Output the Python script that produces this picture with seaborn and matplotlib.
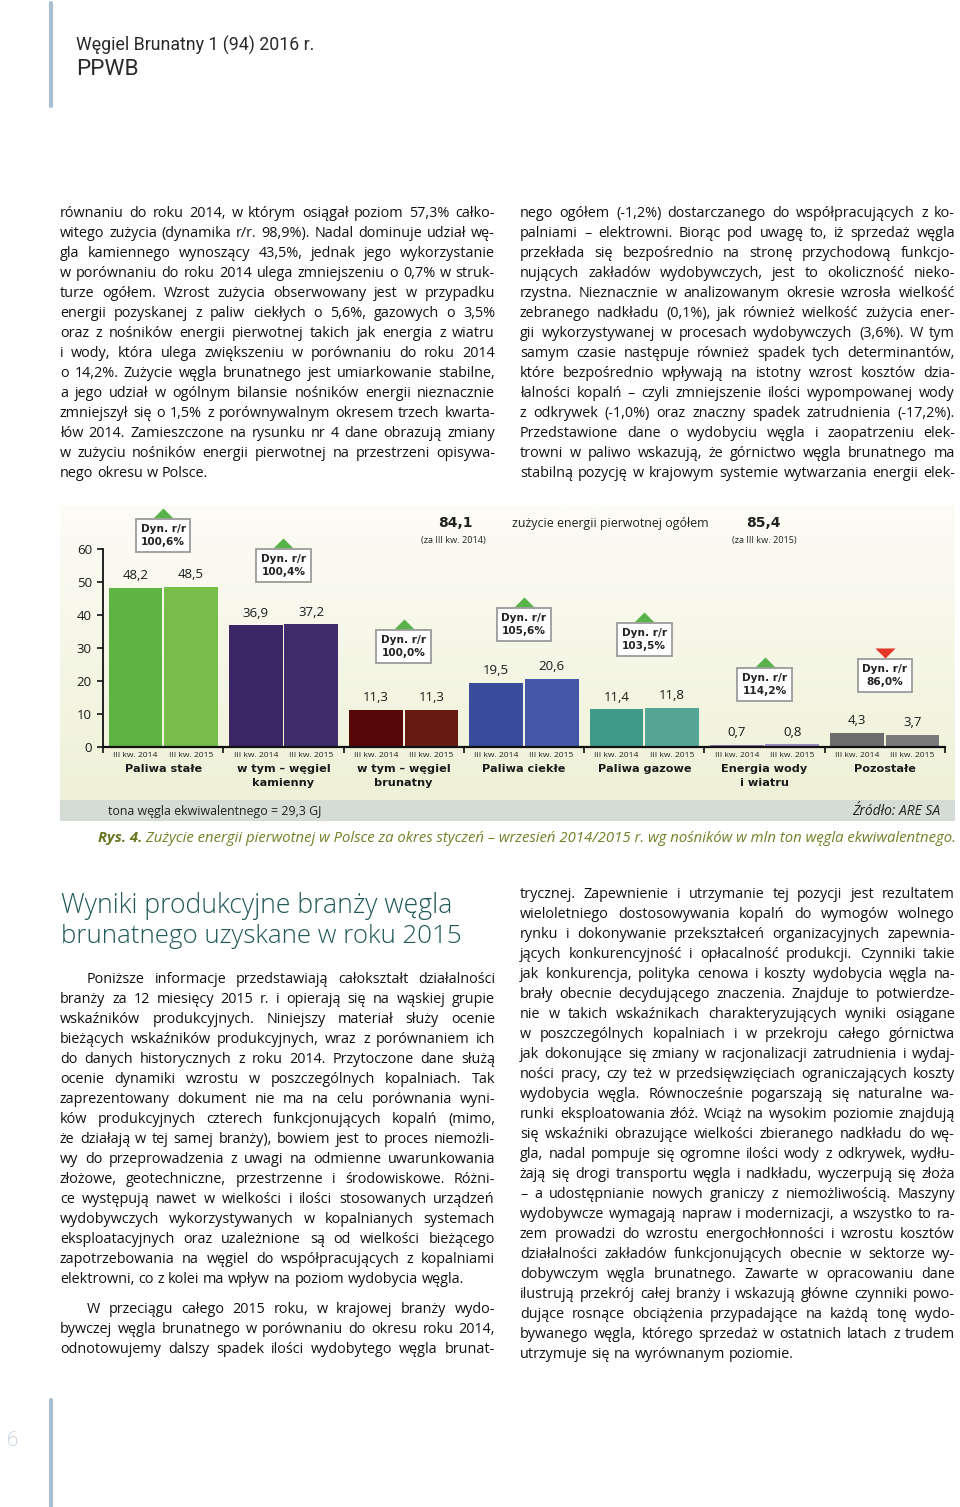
import numpy as np
import pandas as pd
import matplotlib
matplotlib.use("Agg")
import matplotlib.pyplot as plt
from matplotlib.font_manager import FontProperties
from matplotlib.patches import Rectangle
from matplotlib.lines import Line2D
import seaborn as sns

W, H = 960, 1507

# chart data (mln ton węgla ekwiwalentnego)
groups = ["Paliwa stałe", "w tym – węgiel\nkamienny", "w tym – węgiel\nbrunatny",
          "Paliwa ciekłe", "Paliwa gazowe", "Energia wody\ni wiatru", "Pozostałe"]
periods = ["III kw. 2014", "III kw. 2015"]
val_2014 = [48.2, 36.9, 11.3, 19.5, 11.4, 0.7, 4.3]
val_2015 = [48.5, 37.2, 11.3, 20.6, 11.8, 0.8, 3.7]
dyn_labels = ["100,6%", "100,4%", "100,0%", "105,6%", "103,5%", "114,2%", "86,0%"]
dyn_up = [True, True, True, True, True, True, False]
total_2014 = "84,1"
total_2015 = "85,4"
yticks = [0, 10, 20, 30, 40, 50, 60]

colors_2014 = ["#5db443", "#3b2565", "#560808", "#3a4c9c", "#3f9a8a", "#8e7bb8", "#6d6d6d"]
colors_2015 = ["#78bc4a", "#3f2c6b", "#661a12", "#4656a6", "#56a697", "#9a89c2", "#7a7a7a"]
# vertical position of the "Dyn. r/r" boxes (data units)
dyn_box_y = [64.1, 55.0, 30.5, 37.1, 32.6, 18.9, 21.7]

# page text
header_1 = "Węgiel Brunatny 1 (94) 2016 r."
header_2 = "PPWB"

left_top = [
    "równaniu do roku 2014, w którym osiągał poziom 57,3% całko-",
    "witego zużycia (dynamika r/r. 98,9%). Nadal dominuje udział wę-",
    "gla kamiennego wynoszący 43,5%, jednak jego wykorzystanie",
    "w porównaniu do roku 2014 ulega zmniejszeniu o 0,7% w struk-",
    "turze ogółem. Wzrost zużycia obserwowany jest w przypadku",
    "energii pozyskanej z paliw ciekłych o 5,6%, gazowych o 3,5%",
    "oraz z nośników energii pierwotnej takich jak energia z wiatru",
    "i wody, która ulega zwiększeniu w porównaniu do roku 2014",
    "o 14,2%. Zużycie węgla brunatnego jest umiarkowanie stabilne,",
    "a jego udział w ogólnym bilansie nośników energii nieznacznie",
    "zmniejszył się o 1,5% z porównywalnym okresem trzech kwarta-",
    "łów 2014. Zamieszczone na rysunku nr 4 dane obrazują zmiany",
    "w zużyciu nośników energii pierwotnej na przestrzeni opisywa-",
    "nego okresu w Polsce.",
]
right_top = [
    "nego ogółem (-1,2%) dostarczanego do współpracujących z ko-",
    "palniami – elektrowni. Biorąc pod uwagę to, iż sprzedaż węgla",
    "przekłada się bezpośrednio na stronę przychodową funkcjo-",
    "nujących zakładów wydobywczych, jest to okoliczność nieko-",
    "rzystna. Nieznacznie w analizowanym okresie wzrosła wielkość",
    "zebranego nadkładu (0,1%), jak również wielkość zużycia ener-",
    "gii wykorzystywanej w procesach wydobywczych (3,6%). W tym",
    "samym czasie następuje również spadek tych determinantów,",
    "które bezpośrednio wpływają na istotny wzrost kosztów dzia-",
    "łalności kopalń – czyli zmniejszenie ilości wypompowanej wody",
    "z odkrywek (-1,0%) oraz znaczny spadek zatrudnienia (-17,2%).",
    "Przedstawione dane o wydobyciu węgla i zaopatrzeniu elek-",
    "trowni w paliwo wskazują, że górnictwo węgla brunatnego ma",
    "stabilną pozycję w krajowym systemie wytwarzania energii elek-",
]
heading = ["Wyniki produkcyjne branży węgla", "brunatnego uzyskane w roku 2015"]
par_1 = [
    "Poniższe informacje przedstawiają całokształt działalności",
    "branży za 12 miesięcy 2015 r. i opierają się na wąskiej grupie",
    "wskaźników produkcyjnych. Niniejszy materiał służy ocenie",
    "bieżących wskaźników produkcyjnych, wraz z porównaniem ich",
    "do danych historycznych z roku 2014. Przytoczone dane służą",
    "ocenie dynamiki wzrostu w poszczególnych kopalniach. Tak",
    "zaprezentowany dokument nie ma na celu porównania wyni-",
    "ków produkcyjnych czterech funkcjonujących kopalń (mimo,",
    "że działają w tej samej branży), bowiem jest to proces niemożli-",
    "wy do przeprowadzenia z uwagi na odmienne uwarunkowania",
    "złożowe, geotechniczne, przestrzenne i środowiskowe. Różni-",
    "ce występują nawet w wielkości i ilości stosowanych urządzeń",
    "wydobywczych wykorzystywanych w kopalnianych systemach",
    "eksploatacyjnych oraz uzależnione są od wielkości bieżącego",
    "zapotrzebowania na węgiel do współpracujących z kopalniami",
    "elektrowni, co z kolei ma wpływ na poziom wydobycia węgla.",
]
par_2 = [
    "W przeciągu całego 2015 roku, w krajowej branży wydo-",
    "bywczej węgla brunatnego w porównaniu do okresu roku 2014,",
    "odnotowujemy dalszy spadek ilości wydobytego węgla brunat-",
]
right_bottom = [
    "trycznej. Zapewnienie i utrzymanie tej pozycji jest rezultatem",
    "wieloletniego dostosowywania kopalń do wymogów wolnego",
    "rynku i dokonywanie przekształceń organizacyjnych zapewnia-",
    "jących konkurencyjność i opłacalność produkcji. Czynniki takie",
    "jak konkurencja, polityka cenowa i koszty wydobycia węgla na-",
    "brały obecnie decydującego znaczenia. Znajduje to potwierdze-",
    "nie w takich wskaźnikach charakteryzujących wyniki osiągane",
    "w poszczególnych kopalniach i w przekroju całego górnictwa",
    "jak dokonujące się zmiany w racjonalizacji zatrudnienia i wydaj-",
    "ności pracy, czy też w przedsięwzięciach ograniczających koszty",
    "wydobycia węgla. Równocześnie pogarszają się naturalne wa-",
    "runki eksploatowania złóż. Wciąż na wysokim poziomie znajdują",
    "się wskaźniki obrazujące wielkości zbieranego nadkładu do wę-",
    "gla, nadal pompuje się ogromne ilości wody z odkrywek, wydłu-",
    "żają się drogi transportu węgla i nadkładu, wyczerpują się złoża",
    "– a udostępnianie nowych graniczy z niemożliwością. Maszyny",
    "wydobywcze wymagają napraw i modernizacji, a wszystko to ra-",
    "zem prowadzi do wzrostu energochłonności i wzrostu kosztów",
    "działalności zakładów funkcjonujących obecnie w sektorze wy-",
    "dobywczym węgla brunatnego. Zawarte w opracowaniu dane",
    "ilustrują przekrój całej branży i wskazują główne czynniki powo-",
    "dujące rosnące obciążenia przypadające na każdą tonę wydo-",
    "bywanego węgla, którego sprzedaż w ostatnich latach z trudem",
    "utrzymuje się na wyrównanym poziomie.",
]
caption_bold = "Rys. 4."
caption_text = (" Zużycie energii pierwotnej w Polsce za okres styczeń – wrzesień "
                "2014/2015 r. wg nośników w mln ton węgla ekwiwalentnego.")

sns.set_style("ticks")
plt.rcParams["font.family"] = ["Open Sans", "DejaVu Sans"]
plt.rcParams["font.weight"] = "normal"

fig = plt.figure(figsize=(W / 100, H / 100), dpi=100)
renderer = fig.canvas.get_renderer()


def fx(x):
    return x / W


def fy(y):
    return 1 - y / H


def text_w(s, fp):
    w, h, d = renderer.get_text_width_height_descent(s, fp, ismath=False)
    return w


BODY = "#111111"
body_size = 10.4


def justify(line, x0, x1, y, indent=0, last=False):
    size = body_size
    words = line.split(" ")
    while True:
        fp = FontProperties(family=["Open Sans", "DejaVu Sans"], size=size, weight="normal")
        ws = [text_w(w, fp) for w in words]
        space = text_w("a a", fp) - text_w("aa", fp)
        avail = x1 - x0 - indent
        if last or len(words) == 1:
            gap = space
            break
        gap = (avail - sum(ws)) / (len(words) - 1)
        if gap >= 0.6 * space:
            break
        size -= 0.1
    x = x0 + indent
    for w, wd in zip(words, ws):
        fig.text(fx(x), fy(y), w, fontproperties=fp, color=BODY, va="baseline", ha="left")
        x += wd + gap


def paragraph(lines, x0, x1, y0, indent=0, step=20):
    for k, ln in enumerate(lines):
        justify(ln, x0, x1, y0 + k * step, indent=indent if k == 0 else 0,
                last=(k == len(lines) - 1))


def fit_text(x, y, s, width, color, **fpkw):
    fp = FontProperties(size=10, **fpkw)
    size = 10 * width / text_w(s, fp)
    fp = FontProperties(size=size, **fpkw)
    return fig.text(fx(x), fy(y), s, fontproperties=fp, color=color, va="baseline", ha="left"), size


# header and page decoration
fig.add_artist(Line2D([fx(51), fx(51)], [fy(3), fy(106)], color="#a9bfd2", lw=3))
fit_text(76, 51, header_1, 239, "#2a2a2a", family=["Roboto", "DejaVu Sans"], weight="normal")
fit_text(76, 75, header_2, 62, "#2a2a2a", family=["Roboto", "DejaVu Sans"], weight="normal")
fig.add_artist(Line2D([fx(51), fx(51)], [fy(1400), fy(1507)], color="#a9bfd2", lw=3))
fig.text(fx(12), fy(1440), "6", color="#9dbad3", fontsize=15, ha="center", va="center",
         family=["Roboto", "DejaVu Sans"], fontweight="light")

# body text, top
paragraph(left_top, 60, 495, 217)
for k, ln in enumerate(right_top):
    justify(ln, 520, 955, 217 + k * 20)

# chart background panel
bg = fig.add_axes([fx(60), fy(800), 895 / W, 295 / H])
top_c = np.array(matplotlib.colors.to_rgb("#fdfcf6"))
bot_c = np.array(matplotlib.colors.to_rgb("#eef1d7"))
t = np.linspace(0, 1, 200)[:, None]
grad = (top_c * (1 - t) + bot_c * t)[:, None, :]
bg.imshow(grad, aspect="auto", extent=[0, 1, 0, 1])
bg.axis("off")
fig.add_artist(Rectangle((fx(60), fy(821)), 895 / W, 21 / H, transform=fig.transFigure,
                         facecolor="#d5dcd6", edgecolor="none"))

# bar chart
df = pd.DataFrame({
    "group": groups * 2,
    "okres": [periods[0]] * len(groups) + [periods[1]] * len(groups),
    "value": val_2014 + val_2015,
})
ax = fig.add_axes([fx(103), fy(747), (945 - 103) / W, (747 - 507) / H])
ax.patch.set_alpha(0)
sns.barplot(data=df, x="group", y="value", hue="okres", order=groups, hue_order=periods,
            width=0.92, gap=0.03, errorbar=None, legend=False, ax=ax)
palette = [colors_2014, colors_2015]
for c_idx, cont in enumerate(ax.containers):
    for i, bar in enumerate(cont):
        bar.set_facecolor(palette[c_idx][i])
        bar.set_edgecolor("none")
    vals = val_2014 if c_idx == 0 else val_2015
    ax.bar_label(cont, labels=[f"{v:.1f}".replace(".", ",") for v in vals], padding=4,
                 fontsize=9.5, color="#1a1a1a")

ax.set_xlim(-0.5, 6.5)
ax.set_ylim(0, 72.7)
ax.set_yticks(yticks)
ax.set_yticklabels([str(v) for v in yticks], fontsize=9.5, color="#1a1a1a")
ax.set_xticks(np.arange(-0.5, 7, 1))
ax.set_xticklabels([])
ax.set_xlabel("")
ax.set_ylabel("")
ax.tick_params(axis="y", length=4, width=1.2, pad=4, colors="#111111", labelcolor="#1a1a1a")
ax.tick_params(axis="x", length=4, width=1.2, direction="out", colors="#111111")
sns.despine(ax=ax)
ax.spines["left"].set_bounds(0, 60)
ax.spines["left"].set_linewidth(1.3)
ax.spines["bottom"].set_linewidth(1.6)
ax.spines["left"].set_color("#111111")
ax.spines["bottom"].set_color("#111111")

xt = ax.get_xaxis_transform()
for i, name in enumerate(groups):
    for j, per in enumerate(periods):
        ax.text(i + (j - 0.5) * 0.46, -0.036, per, transform=xt, ha="center", va="center",
                fontsize=6.1, color="#222222")
    ax.text(i, -0.072, name, transform=xt, ha="center", va="top", fontsize=8.1,
            fontweight="bold", family="DejaVu Sans", color="#1a1a1a", linespacing=1.5)
    ax.text(i, dyn_box_y[i], f"Dyn. r/r\n{dyn_labels[i]}", ha="center", va="center",
            fontsize=7.6, fontweight="bold", family="DejaVu Sans", color="#222222",
            linespacing=1.45,
            bbox=dict(boxstyle="square,pad=0.45", fc="white", ec="#9b9b9b", lw=1.3))
    if dyn_up[i]:
        ax.plot(i, dyn_box_y[i] + 6.8, marker=[(-1, -0.5), (1, -0.5), (0, 0.5)], ms=14.5,
                color="#58b44a", mec="none", clip_on=False)
    else:
        ax.plot(i, dyn_box_y[i] + 6.8, marker=[(-1, 0.5), (1, 0.5), (0, -0.5)], ms=14.5,
                color="#e5362a", mec="none", clip_on=False)

# totals above chart
fig.text(fx(455), fy(527), total_2014, ha="center", va="baseline", fontsize=10,
         fontweight="bold", family="DejaVu Sans", color="#222222")
fig.text(fx(453), fy(543), "(za III kw. 2014)", ha="center", va="baseline", fontsize=6.6,
         color="#222222")
fit_text(512, 527, "zużycie energii pierwotnej ogółem", 195, "#222222",
         family=["Open Sans", "DejaVu Sans"], weight="normal")
fig.text(fx(763), fy(527), total_2015, ha="center", va="baseline", fontsize=10,
         fontweight="bold", family="DejaVu Sans", color="#222222")
fig.text(fx(764), fy(543), "(za III kw. 2015)", ha="center", va="baseline", fontsize=6.6,
         color="#222222")

fit_text(108, 815, "tona węgla ekwiwalentnego = 29,3 GJ", 214, "#222222",
         family=["Open Sans", "DejaVu Sans"], weight="normal")
fit_text(852, 815, "Źródło: ARE SA", 88, "#222222",
         family=["Open Sans", "DejaVu Sans"], style="italic", weight="normal")

# caption
cap_fp_b = FontProperties(family=["Open Sans", "DejaVu Sans"], size=10, weight="bold", style="italic")
cap_fp = FontProperties(family=["Open Sans", "DejaVu Sans"], size=10, style="italic", weight="normal")
scale = (953 - 98) / (text_w(caption_bold, cap_fp_b) + text_w(caption_text, cap_fp))
cap_fp_b.set_size(10 * scale)
cap_fp.set_size(10 * scale)
fig.text(fx(98), fy(842), caption_bold, fontproperties=cap_fp_b, color="#667820", va="baseline")
fig.text(fx(98 + text_w(caption_bold, cap_fp_b)), fy(842), caption_text, fontproperties=cap_fp,
         color="#6f8226", va="baseline")

# section heading and lower body text
fit_text(61, 913, heading[0], 391, "#1f5859", family=["Open Sans", "DejaVu Sans"], weight="light")
fit_text(61, 943, heading[1], 402, "#1f5859", family=["Open Sans", "DejaVu Sans"], weight="light")
paragraph(par_1, 60, 495, 983, indent=27)
for k, ln in enumerate(par_2):
    justify(ln, 60, 495, 1313 + k * 20, indent=27 if k == 0 else 0)
paragraph(right_bottom, 520, 955, 898)

fig.savefig("out.png", dpi=100)
